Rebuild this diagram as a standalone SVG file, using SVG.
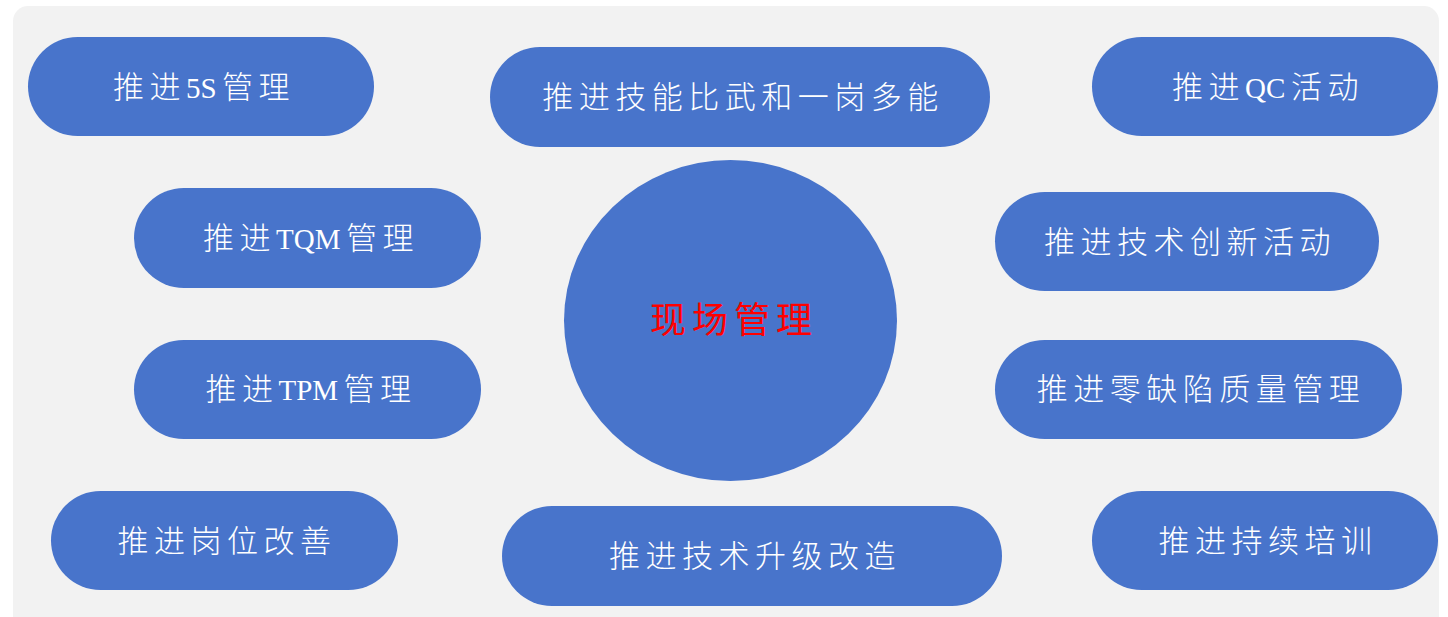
<svg xmlns="http://www.w3.org/2000/svg" width="1448" height="617" viewBox="0 0 1448 617">
<style>
.pill{fill:#4874CB;}
.t{font-family:"Liberation Serif","Noto Sans CJK SC",serif;font-size:31px;fill:#FFFFFF;text-anchor:middle;letter-spacing:5.5px;font-weight:300;}
.l{font-size:29px;letter-spacing:0px;}
.c{font-family:"Liberation Serif","Noto Sans CJK SC",serif;font-size:36px;fill:#FF0000;text-anchor:middle;letter-spacing:6px;}
</style>
<rect x="0" y="0" width="1448" height="617" fill="#FFFFFF"/>
<rect id="background" x="13" y="6" width="1426" height="640" rx="15" fill="#F2F2F2"/>
<g id="connectors"></g>
<g id="center">
<ellipse cx="730.5" cy="320.5" rx="166.5" ry="160.5" fill="#4874CB"/>
<text class="c" x="734" y="333">现场管理</text>
</g>
<g id="n1"><rect class="pill" x="28" y="37" width="346" height="99" rx="49.5"/><text class="t" x="204" y="98">推进<tspan class="l">5S</tspan><tspan dx="5.5">管理</tspan></text></g>
<g id="n2"><rect class="pill" x="490" y="47" width="500" height="100" rx="50"/><text class="t" x="743" y="108">推进技能比武和一岗多能</text></g>
<g id="n3"><rect class="pill" x="1092" y="37" width="346" height="99" rx="49.5"/><text class="t" x="1268" y="98">推进<tspan class="l">QC</tspan><tspan dx="5.5">活动</tspan></text></g>
<g id="n4"><rect class="pill" x="134" y="188" width="347" height="100" rx="50"/><text class="t" x="311" y="249">推进<tspan class="l">TQM</tspan><tspan dx="5.5">管理</tspan></text></g>
<g id="n5"><rect class="pill" x="995" y="192" width="384" height="99" rx="49.5"/><text class="t" x="1190" y="253">推进技术创新活动</text></g>
<g id="n6"><rect class="pill" x="134" y="340" width="347" height="99" rx="49.5"/><text class="t" x="311" y="400">推进<tspan class="l">TPM</tspan><tspan dx="5.5">管理</tspan></text></g>
<g id="n7"><rect class="pill" x="995" y="340" width="407" height="99" rx="49.5"/><text class="t" x="1201" y="400">推进零缺陷质量管理</text></g>
<g id="n8"><rect class="pill" x="51" y="491" width="347" height="99" rx="49.5"/><text class="t" x="227" y="552">推进岗位改善</text></g>
<g id="n9"><rect class="pill" x="502" y="506" width="500" height="100" rx="50"/><text class="t" x="755" y="567">推进技术升级改造</text></g>
<g id="n10"><rect class="pill" x="1092" y="491" width="346" height="99" rx="49.5"/><text class="t" x="1268" y="552">推进持续培训</text></g>
</svg>
